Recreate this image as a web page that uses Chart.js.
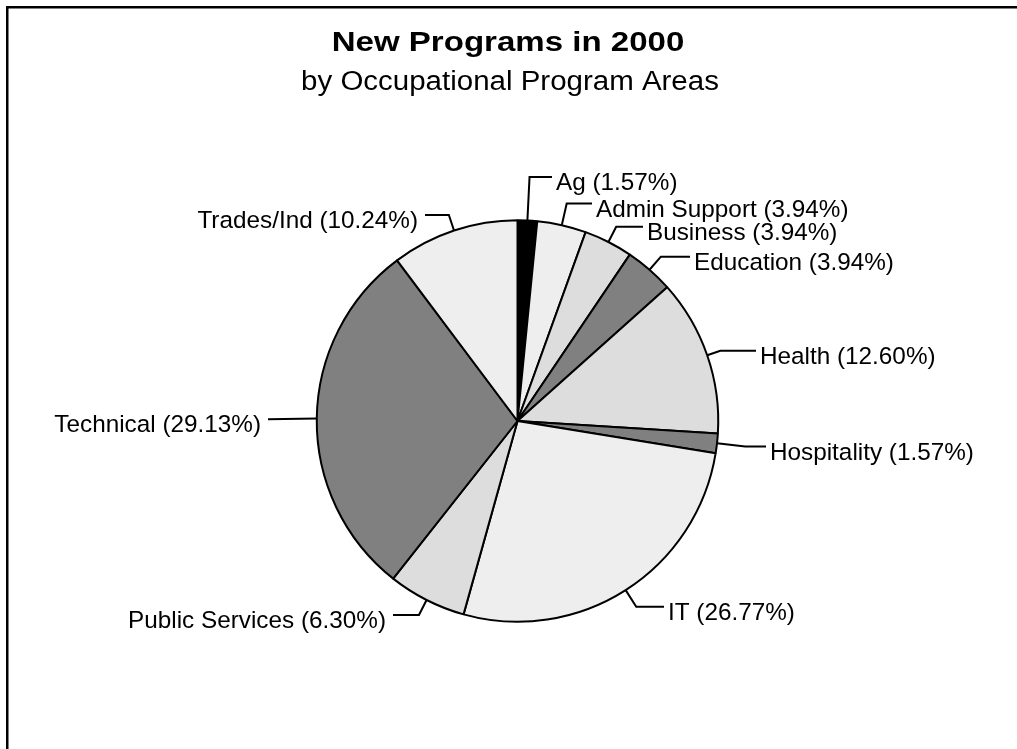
<!DOCTYPE html>
<html>
<head>
<meta charset="utf-8">
<script src="https://cdn.jsdelivr.net/npm/chart.js@4/dist/chart.umd.min.js"></script>
<style>
  html, body { margin: 0; padding: 0; background: #ffffff; overflow: hidden; }
  #wrap { position: relative; width: 1017px; height: 749px; overflow: hidden; }
  #c { display: block; }
</style>
</head>
<body>
<div id="wrap"><canvas id="c" width="1017" height="749"></canvas></div>
<script>
// Program areas, clockwise from 12 o'clock
const categories = ['Ag', 'Admin Support', 'Business', 'Education', 'Health',
                    'Hospitality', 'IT', 'Public Services', 'Technical', 'Trades/Ind'];
// Share of new programs, percent
const shares = [1.57, 3.94, 3.94, 3.94, 12.60, 1.57, 26.77, 6.30, 29.13, 10.24];
// Slice fills
const sliceFills = ['#000000', '#eeeeee', '#dddddd', '#808080', '#dddddd',
                    '#808080', '#eeeeee', '#dddddd', '#808080', '#eeeeee'];
// Where each label's leader line ends (x) and its horizontal run (y)
const labelAnchors = [[552, 177], [592, 203.5], [643, 226.7], [690, 256.7], [756, 350.7],
                      [766, 446.5], [664, 606.7], [393, 615], [268, 419.3], [425, 215]];

const LABEL_FONT = '24.3px "Liberation Sans", Arial, sans-serif';

const framePlugin = {
  id: 'frameAndTitle',
  beforeDraw(chart) {
    const ctx = chart.ctx;
    ctx.save();
    ctx.fillStyle = '#ffffff';
    ctx.fillRect(0, 0, chart.width, chart.height);
    // frame: left and top edges
    ctx.fillStyle = '#000000';
    ctx.fillRect(6, 6, 2.5, chart.height - 6);
    ctx.fillRect(6, 6, chart.width - 6, 2.5);

    // title
    ctx.textAlign = 'center';
    ctx.textBaseline = 'alphabetic';
    ctx.save();
    ctx.translate(508, 51);
    ctx.scale(1.18, 1);
    ctx.font = 'bold 28px "Liberation Sans", Arial, sans-serif';
    ctx.fillText('New Programs in 2000', 0, 0);
    ctx.restore();
    ctx.save();
    ctx.translate(510, 90);
    ctx.scale(1.1, 1);
    ctx.font = '26.8px "Liberation Sans", Arial, sans-serif';
    ctx.fillText('by Occupational Program Areas', 0, 0);
    ctx.restore();
    ctx.restore();
  }
};

const leaderPlugin = {
  id: 'leaderLabels',
  afterDatasetsDraw(chart) {
    const ctx = chart.ctx;
    const meta = chart.getDatasetMeta(0);
    ctx.save();
    ctx.strokeStyle = '#000000';
    ctx.fillStyle = '#000000';
    ctx.lineWidth = 2;
    ctx.font = LABEL_FONT;
    ctx.textBaseline = 'alphabetic';
    meta.data.forEach((arc, i) => {
      const p = arc.getProps(['x', 'y', 'startAngle', 'endAngle', 'outerRadius'], true);
      const a = (p.startAngle + p.endAngle) / 2;
      const ex = p.x + p.outerRadius * Math.cos(a);
      const ey = p.y + p.outerRadius * Math.sin(a);
      const [ax, ay] = labelAnchors[i];
      let bx = ex, by = ey;
      const s = Math.sin(a);
      if (Math.abs(s) > 0.05) {
        const t = (ay - ey) / s;
        if (t > 0 && t < 80) {
          bx = ex + t * Math.cos(a);
          by = ay;
        }
      }
      ctx.beginPath();
      ctx.moveTo(ex, ey);
      ctx.lineTo(bx, by);
      ctx.lineTo(ax, ay);
      ctx.stroke();
      const text = categories[i] + ' (' + shares[i].toFixed(2) + '%)';
      const right = ax > p.x;
      ctx.textAlign = right ? 'left' : 'right';
      ctx.fillText(text, right ? ax + 4 : ax - 7, ay + 13);
    });
    ctx.restore();
  }
};

new Chart(document.getElementById('c'), {
  type: 'pie',
  data: {
    labels: categories,
    datasets: [{
      data: shares,
      backgroundColor: sliceFills,
      borderColor: '#000000',
      borderWidth: 2,
      hoverOffset: 0
    }]
  },
  options: {
    responsive: false,
    animation: false,
    devicePixelRatio: 1,
    events: [],
    layout: { padding: { left: 315.75, top: 219.25, right: 297.75, bottom: 126.25 } },
    plugins: {
      legend: { display: false },
      title: { display: false },
      tooltip: { enabled: false }
    }
  },
  plugins: [framePlugin, leaderPlugin]
});
</script>
</body>
</html>
